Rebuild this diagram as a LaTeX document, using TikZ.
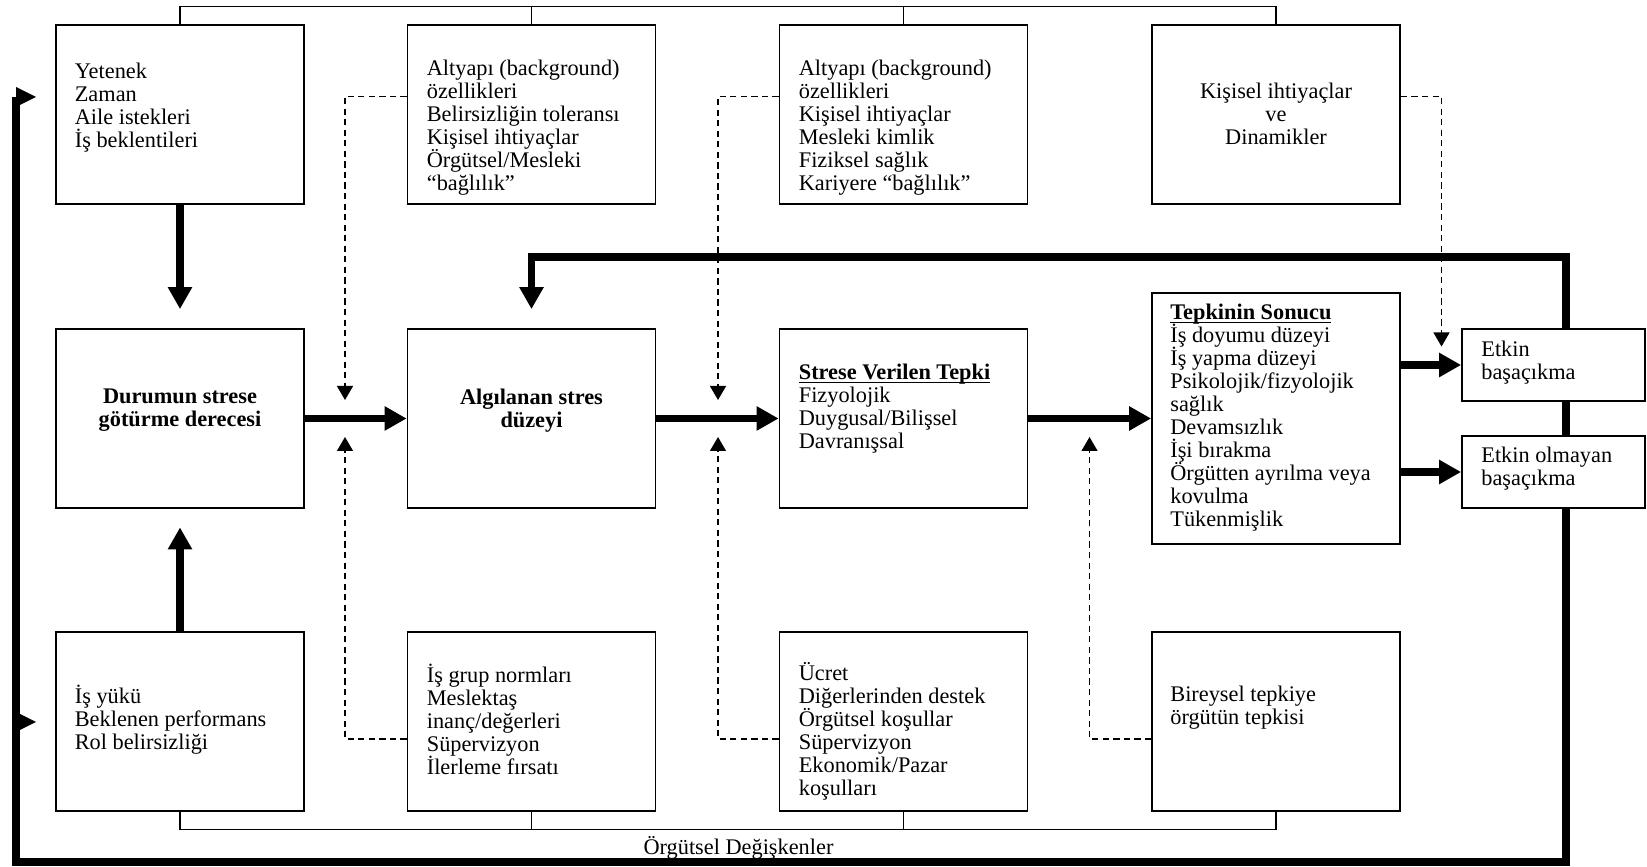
\documentclass[tikz,border=0pt]{standalone}
\usepackage{amsmath}
\usepackage{fontspec}
\setmainfont{Liberation Serif}
\usepackage{tikz}
\usetikzlibrary{arrows.meta, backgrounds}

\newcommand{\metin}{\fontsize{12.7}{13.1}\selectfont\lineskiplimit=-5pt}
\newcommand{\baslik}[1]{\underline{\smash[b]{\textbf{#1}}}}

\tikzset{
  kutu/.style={draw, line width=1pt, fill=white, inner sep=0pt,
    minimum width=4.96cm, minimum height=3.58cm},
  kucukkutu/.style={kutu, minimum width=3.66cm, minimum height=1.43cm},
  yazi/.style={align=left, anchor=west, inner sep=0pt, font=\metin},
  ortayazi/.style={align=center, inner sep=0pt, font=\metin},
  kalinok/.style={line width=0.15cm, -{Triangle[length=0.44cm, width=0.46cm]}},
  kesikok/.style={line width=0.7pt, dash pattern=on 3.5pt off 2.5pt,
    -{Triangle[length=0.28cm, width=0.32cm]}},
  ince/.style={line width=0.8pt}
}

\begin{document}
\begin{tikzpicture}

\useasboundingbox ( 0, 0 ) rectangle ( 32.94, 17.32 );

% Top row
\node [kutu] (ust1) at ( 3.60, 15.03 ) {};
\node [kutu] (ust2) at ( 10.63, 15.03 ) {};
\node [kutu] (ust3) at ( 18.07, 15.03 ) {};
\node [kutu] (ust4) at ( 25.52, 15.03 ) {};

% Middle row
\node [kutu] (orta1) at ( 3.60, 8.95 ) {};
\node [kutu] (orta2) at ( 10.63, 8.95 ) {};
\node [kutu] (orta3) at ( 18.07, 8.95 ) {};
\node [kutu, minimum height=5.02cm] (orta4) at ( 25.52, 8.95 ) {};
\node [kucukkutu] (etkin) at ( 31.07, 10.02 ) {};
\node [kucukkutu] (etkinsiz) at ( 31.07, 7.88 ) {};

% Bottom row
\node [kutu] (alt1) at ( 3.60, 2.89 ) {};
\node [kutu] (alt2) at ( 10.63, 2.89 ) {};
\node [kutu] (alt3) at ( 18.07, 2.89 ) {};
\node [kutu] (alt4) at ( 25.52, 2.89 ) {};

% Texts
\node [yazi] (y-ust1) at ( 1.49, 15.16 ) {Yetenek\\Zaman\\Aile istekleri\\İş beklentileri};
\node [yazi] (y-ust2) at ( 8.53, 14.77 ) {Altyapı (background)\\özellikleri\\Belirsizliğin toleransı\\Kişisel ihtiyaçlar\\Örgütsel/Mesleki\\“bağlılık”};
\node [yazi] (y-ust3) at ( 15.97, 14.77 ) {Altyapı (background)\\özellikleri\\Kişisel ihtiyaçlar\\Mesleki kimlik\\Fiziksel sağlık\\Kariyere “bağlılık”};
\node [ortayazi] (y-ust4) at ( 25.52, 15.05 ) {Kişisel ihtiyaçlar\\ve\\Dinamikler};

\node [ortayazi, font=\metin\bfseries] (y-orta1) at ( 3.60, 9.11 ) {Durumun strese\\götürme derecesi};
\node [ortayazi, font=\metin\bfseries] (y-orta2) at ( 10.63, 9.11 ) {Algılanan stres\\düzeyi};
\node [yazi] (y-orta3) at ( 15.97, 9.14 ) {\baslik{Strese Verilen Tepki}\\Fizyolojik\\Duygusal/Bilişsel\\Davranışsal};
\node [yazi] (y-orta4) at ( 23.40, 8.97 ) {\baslik{Tepkinin Sonucu}\\İş doyumu düzeyi\\İş yapma düzeyi\\Psikolojik/fizyolojik\\sağlık\\Devamsızlık\\İşi bırakma\\Örgütten ayrılma veya\\kovulma\\Tükenmişlik};
\node [yazi] (y-etkin) at ( 29.62, 10.07 ) {Etkin\\başaçıkma};
\node [yazi] (y-etkinsiz) at ( 29.62, 7.95 ) {Etkin olmayan\\başaçıkma};

\node [yazi] (y-alt1) at ( 1.49, 2.93 ) {İş yükü\\Beklenen performans\\Rol belirsizliği};
\node [yazi] (y-alt2) at ( 8.53, 2.93 ) {İş grup normları\\Meslektaş\\inanç/değerleri\\Süpervizyon\\İlerleme fırsatı};
\node [yazi] (y-alt3) at ( 15.97, 2.70 ) {Ücret\\Diğerlerinden destek\\Örgütsel koşullar\\Süpervizyon\\Ekonomik/Pazar\\koşulları};
\node [yazi] (y-alt4) at ( 23.40, 3.16 ) {Bireysel tepkiye\\örgütün tepkisi};

\node [ortayazi] (degisken) at ( 14.77, 0.37 ) {Örgütsel Değişkenler};

% Brackets
\draw [ince] (ust1.north) -- ++( 0, 0.35 ) -| (ust4.north);
\draw [ince] (ust2.north) -- ++( 0, 0.35 );
\draw [ince] (ust3.north) -- ++( 0, 0.35 );
\draw [ince] (alt1.south) -- ++( 0, -0.35 ) -| (alt4.south);
\draw [ince] (alt2.south) -- ++( 0, -0.35 );
\draw [ince] (alt3.south) -- ++( 0, -0.35 );

% Main flow
\draw [kalinok, shorten >=0.38cm] (ust1) -- (orta1);
\draw [kalinok, shorten >=0.37cm] (alt1) -- (orta1);
\draw [kalinok] (orta1) -- (orta2);
\draw [kalinok] (orta2) -- (orta3);
\draw [kalinok] (orta3) -- (orta4);
\draw [kalinok] (orta4.east |- etkin) -- (etkin);
\draw [kalinok] (orta4.east |- etkinsiz) -- (etkinsiz);

% Feedback loop
\coordinate (geri) at ( 0.32, 15.38 );
\begin{scope}[on background layer]
\draw [kalinok] (geri) -- ( 0.32, 0.08 ) -- ( 31.32, 0.08 ) -- ( 31.32, 12.18 ) -| ([yshift=0.38cm]orta2.north);
\end{scope}
\fill (geri) ++( 0, 0.2 ) -- ++( 0.4, -0.2 ) -- ++( -0.4, -0.2 ) -- cycle;
\fill ( 0.32, 2.88 ) ++( 0, 0.2 ) -- ++( 0.4, -0.2 ) -- ++( -0.4, -0.2 ) -- cycle;

% Moderators
\coordinate (k1) at ( 6.90, 9.32 );
\coordinate (k2) at ( 6.90, 8.58 );
\coordinate (k3) at ( 14.36, 9.32 );
\coordinate (k4) at ( 14.36, 8.58 );
\coordinate (k5) at ( 21.79, 8.58 );
\coordinate (k6) at ( 28.83, 10.39 );

\draw [kesikok] ([yshift=0.36cm]ust2.west) -| (k1);
\draw [kesikok] ([yshift=-0.35cm]alt2.west) -| (k2);
\draw [kesikok] ([yshift=0.36cm]ust3.west) -| (k3);
\draw [kesikok] ([yshift=-0.35cm]alt3.west) -| (k4);
\draw [kesikok] ([yshift=-0.35cm]alt4.west) -| (k5);
\draw [kesikok] ([yshift=0.36cm]ust4.east) -| (k6);

\end{tikzpicture}
\end{document}
